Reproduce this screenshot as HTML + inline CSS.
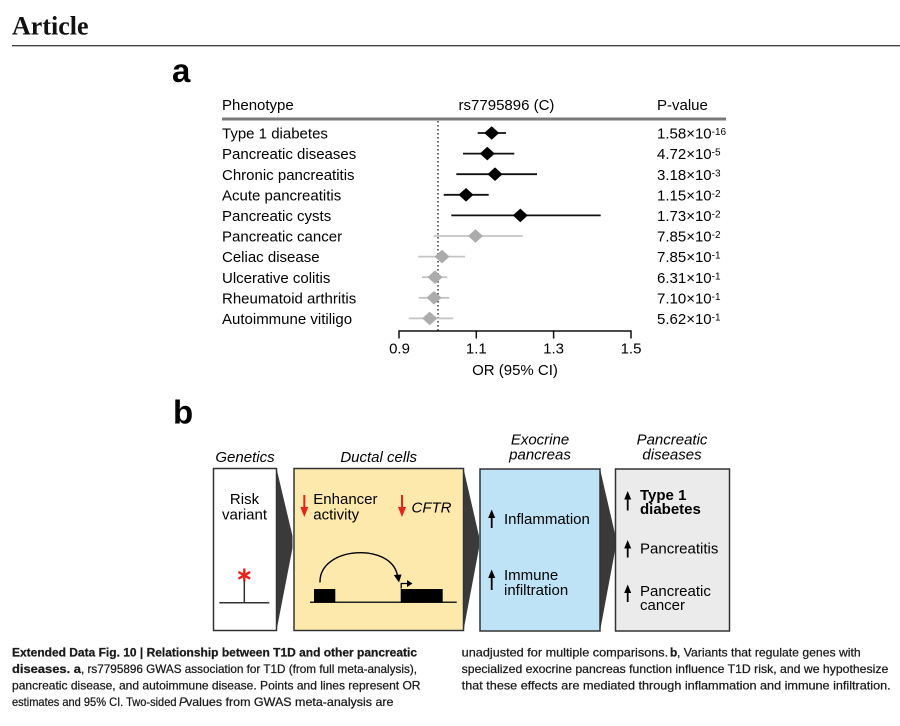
<!DOCTYPE html>
<html>
<head>
<meta charset="utf-8">
<style>
html,body{margin:0;padding:0;background:#fff;}
svg{display:block;}
text{font-family:"Liberation Sans",Arial,sans-serif;}
.cap{font-family:"Liberation Sans",Arial,sans-serif;font-size:11.8px;fill:#1a1a1a;stroke:#1a1a1a;stroke-width:0.25px;}
.b{font-weight:bold;}
</style>
</head>
<body>
<svg width="900" height="726" viewBox="0 0 900 726" xmlns="http://www.w3.org/2000/svg">
<rect width="900" height="726" fill="#fff"/>
<!-- Header -->
<text x="12" y="34.5" style="font-family:'Liberation Serif',serif;font-weight:bold;font-size:26px;" fill="#111">Article</text>
<line x1="12" y1="45.7" x2="900" y2="45.7" stroke="#444" stroke-width="1.3"/>

<!-- Panel a -->
<text x="172" y="82" font-size="33" font-weight="bold" fill="#000">a</text>
<g font-size="15" fill="#000">
<text x="222" y="110">Phenotype</text>
<text x="506.5" y="110" text-anchor="middle">rs7795896 (C)</text>
<text x="657" y="110">P-value</text>
</g>
<line x1="222" y1="119" x2="726" y2="119" stroke="#7a7a7a" stroke-width="3"/>

<!-- dotted reference line -->
<line x1="438" y1="121" x2="438" y2="331" stroke="#333" stroke-width="1.4" stroke-dasharray="1.6,2.4"/>

<g font-size="15" fill="#000">
<text x="222" y="138.6">Type 1 diabetes</text>
<text x="222" y="159.2">Pancreatic diseases</text>
<text x="222" y="179.8">Chronic pancreatitis</text>
<text x="222" y="200.4">Acute pancreatitis</text>
<text x="222" y="221">Pancreatic cysts</text>
<text x="222" y="241.6">Pancreatic cancer</text>
<text x="222" y="262.2">Celiac disease</text>
<text x="222" y="282.8">Ulcerative colitis</text>
<text x="222" y="303.4">Rheumatoid arthritis</text>
<text x="222" y="324">Autoimmune vitiligo</text>
</g>

<!-- CI lines -->
<g stroke-width="1.8">
<line x1="477.7" y1="133" x2="506" y2="133" stroke="#111"/>
<line x1="463" y1="153.6" x2="514.3" y2="153.6" stroke="#111"/>
<line x1="456.3" y1="174.2" x2="537" y2="174.2" stroke="#111"/>
<line x1="443.7" y1="194.8" x2="488.7" y2="194.8" stroke="#111"/>
<line x1="451.3" y1="215.4" x2="600.7" y2="215.4" stroke="#111"/>
<line x1="433.5" y1="236" x2="522.7" y2="236" stroke="#c4c4c4"/>
<line x1="418.3" y1="256.6" x2="465" y2="256.6" stroke="#c4c4c4"/>
<line x1="422" y1="277.2" x2="447.3" y2="277.2" stroke="#c4c4c4"/>
<line x1="418.7" y1="297.8" x2="449.3" y2="297.8" stroke="#c4c4c4"/>
<line x1="408.7" y1="318.4" x2="453.3" y2="318.4" stroke="#c4c4c4"/>
</g>
<!-- diamonds -->
<g>
<polygon points="484.2,133 491.7,126.2 499.2,133 491.7,139.8" fill="#000"/>
<polygon points="479.8,153.6 487.3,146.8 494.8,153.6 487.3,160.4" fill="#000"/>
<polygon points="487.5,174.2 495,167.4 502.5,174.2 495,181" fill="#000"/>
<polygon points="458.5,194.8 466,188 473.5,194.8 466,201.6" fill="#000"/>
<polygon points="512.8,215.4 520.3,208.6 527.8,215.4 520.3,222.2" fill="#000"/>
<polygon points="468,236 475.5,229.2 483,236 475.5,242.8" fill="#acacac"/>
<polygon points="434.5,256.6 442,249.8 449.5,256.6 442,263.4" fill="#acacac"/>
<polygon points="427.5,277.2 435,270.4 442.5,277.2 435,284" fill="#acacac"/>
<polygon points="426.5,297.8 434,291 441.5,297.8 434,304.6" fill="#acacac"/>
<polygon points="422.2,318.4 429.7,311.6 437.2,318.4 429.7,325.2" fill="#acacac"/>
</g>

<!-- p values -->
<g font-size="15" fill="#000">
<text x="657" y="138.6">1.58×10<tspan font-size="10" dy="-3.5">-16</tspan></text>
<text x="657" y="159.2">4.72×10<tspan font-size="10" dy="-3.5">-5</tspan></text>
<text x="657" y="179.8">3.18×10<tspan font-size="10" dy="-3.5">-3</tspan></text>
<text x="657" y="200.4">1.15×10<tspan font-size="10" dy="-3.5">-2</tspan></text>
<text x="657" y="221">1.73×10<tspan font-size="10" dy="-3.5">-2</tspan></text>
<text x="657" y="241.6">7.85×10<tspan font-size="10" dy="-3.5">-2</tspan></text>
<text x="657" y="262.2">7.85×10<tspan font-size="10" dy="-3.5">-1</tspan></text>
<text x="657" y="282.8">6.31×10<tspan font-size="10" dy="-3.5">-1</tspan></text>
<text x="657" y="303.4">7.10×10<tspan font-size="10" dy="-3.5">-1</tspan></text>
<text x="657" y="324">5.62×10<tspan font-size="10" dy="-3.5">-1</tspan></text>
</g>

<!-- axis -->
<g stroke="#111" stroke-width="1.5">
<line x1="399" y1="331" x2="631" y2="331"/>
<line x1="399" y1="330.3" x2="399" y2="338.5"/>
<line x1="476.3" y1="330.3" x2="476.3" y2="338.5"/>
<line x1="553.6" y1="330.3" x2="553.6" y2="338.5"/>
<line x1="631" y1="330.3" x2="631" y2="338.5"/>
</g>
<g font-size="15" fill="#000" text-anchor="middle">
<text x="399.5" y="353.5">0.9</text>
<text x="476.3" y="353.5">1.1</text>
<text x="553.6" y="353.5">1.3</text>
<text x="631" y="353.5">1.5</text>
<text x="515" y="375">OR (95% CI)</text>
</g>

<!-- Panel b -->
<text x="173" y="423.5" font-size="33" font-weight="bold" fill="#000">b</text>

<g font-size="15" font-style="italic" fill="#000" text-anchor="middle">
<text x="245" y="462">Genetics</text>
<text x="378.7" y="462">Ductal cells</text>
<text x="540" y="444.5">Exocrine</text>
<text x="540" y="459.5">pancreas</text>
<text x="672" y="444.5">Pancreatic</text>
<text x="672" y="459.5">diseases</text>
</g>

<!-- connectors -->
<g fill="#3a3a3a">
<polygon points="276.5,468.5 292.5,536 292.5,548 276.5,630.5"/>
<polygon points="463.5,468.5 479,536 479,548 463.5,630.5"/>
<polygon points="600,469 615.5,536 615.5,548 600,631"/>
</g>

<!-- boxes -->
<g stroke="#333" stroke-width="1.5">
<rect x="213.5" y="468.5" width="63" height="162" fill="#fff"/>
<rect x="294" y="468.5" width="169.5" height="162" fill="#fce9ab"/>
<rect x="480" y="469" width="120" height="162" fill="#bee3f6"/>
<rect x="615.5" y="469" width="114" height="162" fill="#ebebeb"/>
</g>

<!-- Box 1 contents -->
<g font-size="15" fill="#000" text-anchor="middle">
<text x="244.5" y="504">Risk</text>
<text x="244.5" y="519.5">variant</text>
</g>
<g stroke="#e8231c" stroke-width="2.4" stroke-linecap="round">
<line x1="244.3" y1="569.5" x2="244.3" y2="580.8"/>
<line x1="239.3" y1="572.4" x2="249.3" y2="578.2"/>
<line x1="239.3" y1="578.2" x2="249.3" y2="572.4"/>
</g>
<line x1="244.3" y1="581" x2="244.3" y2="602.7" stroke="#333" stroke-width="1.5"/>
<line x1="219.3" y1="602.7" x2="269.3" y2="602.7" stroke="#333" stroke-width="1.5"/>

<!-- Box 2 contents -->
<g fill="#e8231c" stroke="#e8231c">
<line x1="304.3" y1="495" x2="304.3" y2="509" stroke-width="2"/>
<polygon points="300.3,507 308.3,507 304.3,517" stroke="none"/>
<line x1="402" y1="495" x2="402" y2="509" stroke-width="2"/>
<polygon points="398,507 406,507 402,517" stroke="none"/>
</g>
<g font-size="15" fill="#000">
<text x="313.3" y="504">Enhancer</text>
<text x="313.3" y="519.5">activity</text>
<text x="411.5" y="512.7" font-style="italic">CFTR</text>
</g>
<line x1="310" y1="602.2" x2="456.7" y2="602.2" stroke="#222" stroke-width="1.5"/>
<rect x="314" y="589" width="21.3" height="13.5" fill="#000"/>
<rect x="400.7" y="589" width="42" height="13.5" fill="#000"/>
<path d="M320,582.5 C319,546 392,542 397.5,576" fill="none" stroke="#000" stroke-width="1.4"/>
<polygon points="393.8,575 401.5,574.5 399,582.5" fill="#000"/>
<path d="M401.2,588.5 L401.2,583.5 L408,583.5" fill="none" stroke="#000" stroke-width="1.3"/>
<polygon points="407,580 412.5,583.5 407,587" fill="#000"/>

<!-- Box 3 contents -->
<g fill="#000" stroke="#000">
<line x1="491.7" y1="515" x2="491.7" y2="528" stroke-width="1.8"/>
<polygon points="488.2,518 495.2,518 491.7,509.5" stroke="none"/>
<line x1="491.7" y1="575" x2="491.7" y2="590" stroke-width="1.8"/>
<polygon points="488.2,578 495.2,578 491.7,569.5" stroke="none"/>
</g>
<g font-size="15" fill="#000">
<text x="504" y="524">Inflammation</text>
<text x="504" y="580">Immune</text>
<text x="504" y="595">infiltration</text>
</g>

<!-- Box 4 contents -->
<g fill="#000" stroke="#000">
<line x1="627.7" y1="496" x2="627.7" y2="510.5" stroke-width="1.8"/>
<polygon points="624.2,499.5 631.2,499.5 627.7,491" stroke="none"/>
<line x1="627.7" y1="545" x2="627.7" y2="557.5" stroke-width="1.8"/>
<polygon points="624.2,548.5 631.2,548.5 627.7,540" stroke="none"/>
<line x1="627.7" y1="589.5" x2="627.7" y2="602" stroke-width="1.8"/>
<polygon points="624.2,593 631.2,593 627.7,584.5" stroke="none"/>
</g>
<g font-size="15" fill="#000">
<text x="640" y="500" font-weight="bold">Type 1</text>
<text x="640" y="514" font-weight="bold">diabetes</text>
<text x="640" y="553.3">Pancreatitis</text>
<text x="640" y="596">Pancreatic</text>
<text x="640" y="610">cancer</text>
</g>

<!-- Caption left column -->
<text class="cap b" x="12" y="656.7" textLength="405" lengthAdjust="spacingAndGlyphs">Extended Data Fig. 10 | Relationship between T1D and other pancreatic</text>
<text class="cap b" x="12" y="673" textLength="69" lengthAdjust="spacingAndGlyphs">diseases. a</text>
<text class="cap" x="81" y="673" textLength="336" lengthAdjust="spacingAndGlyphs">, rs7795896 GWAS association for T1D (from full meta-analysis),</text>
<text class="cap" x="12" y="689.7" textLength="408.5" lengthAdjust="spacingAndGlyphs">pancreatic disease, and autoimmune disease. Points and lines represent OR</text>
<text class="cap" x="12" y="706" textLength="164.5" lengthAdjust="spacingAndGlyphs">estimates and 95% CI. Two-sided</text>
<text class="cap" x="179" y="706" font-style="italic">P</text>
<text class="cap" x="186" y="706" textLength="207.5" lengthAdjust="spacingAndGlyphs">values from GWAS meta-analysis are</text>

<!-- Caption right column -->
<text class="cap" x="461.7" y="656.7" textLength="206.5" lengthAdjust="spacingAndGlyphs">unadjusted for multiple comparisons.</text>
<text class="cap b" x="670" y="656.7">b</text>
<text class="cap" x="677" y="656.7" textLength="183.7" lengthAdjust="spacingAndGlyphs">, Variants that regulate genes with</text>
<text class="cap" x="461.7" y="673" textLength="426.6" lengthAdjust="spacingAndGlyphs">specialized exocrine pancreas function influence T1D risk, and we hypothesize</text>
<text class="cap" x="461.7" y="689.7" textLength="429" lengthAdjust="spacingAndGlyphs">that these effects are mediated through inflammation and immune infiltration.</text>
</svg>
</body>
</html>
